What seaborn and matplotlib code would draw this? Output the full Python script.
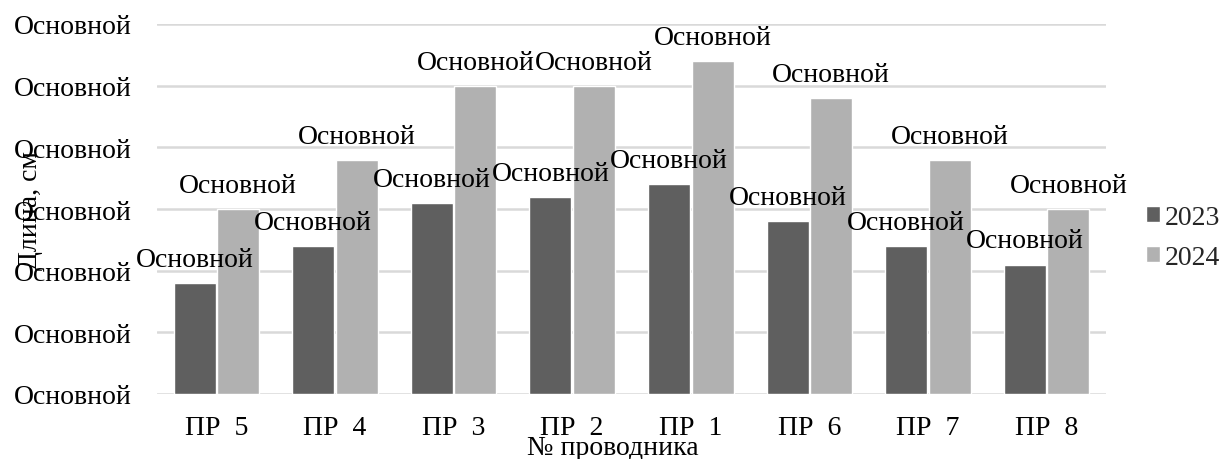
import pandas as pd
import matplotlib
matplotlib.use('Agg')
import matplotlib.pyplot as plt
import seaborn as sns

# Data (length, cm)
categories = ['ПР  5', 'ПР  4', 'ПР  3', 'ПР  2', 'ПР  1', 'ПР  6', 'ПР  7', 'ПР  8']
values_2023 = [18, 24, 31, 32, 34, 28, 24, 21]
values_2024 = [30, 38, 50, 50, 54, 48, 38, 30]
years = ['2023', '2024']
y_ticks = [0, 10, 20, 30, 40, 50, 60]
tick_text = 'Основной'

df = pd.DataFrame({
    'cat': categories * 2,
    'val': values_2023 + values_2024,
    'year': [years[0]] * len(categories) + [years[1]] * len(categories),
})

sns.set_theme(style='white')
plt.rcParams['font.family'] = ['Liberation Serif', 'DejaVu Serif']
fs = 20

fig = plt.figure(figsize=(12.22, 4.6), dpi=100)
ax = fig.add_axes([157 / 1222, 65 / 460, 949 / 1222, 370 / 460])

sns.barplot(data=df, x='cat', y='val', hue='year', order=categories,
            palette=['#5f5f5f', '#b1b1b1'], width=0.734, gap=0.035,
            saturation=1, ax=ax)

# data labels
for cont in ax.containers:
    ax.bar_label(cont, labels=[tick_text] * len(cont), padding=8,
                 fontsize=fs, color='black')

ax.set_xlim(-0.5, len(categories) - 0.5)
ax.set_ylim(0, 60)
ax.set_yticks(y_ticks)
ax.set_yticklabels([tick_text] * len(y_ticks), fontsize=fs, color='black')
ax.set_xticks(range(len(categories)))
ax.set_xticklabels(categories, fontsize=fs, color='black')
ax.tick_params(axis='y', length=0, pad=18)
ax.tick_params(axis='x', length=0, pad=15)

ax.grid(axis='y', color='#d9d9d9', linewidth=1.8)
ax.set_axisbelow(True)
for s in ax.spines.values():
    s.set_visible(False)

ax.set_ylabel('Длина, см', fontsize=fs, color='black')
ax.yaxis.set_label_coords(-0.12, 0.5)
ax.set_xlabel('№ проводника', fontsize=fs, color='black')
ax.xaxis.set_label_coords(0.48, -0.11)

ax.legend(loc='center left', bbox_to_anchor=(1146 / 1222, 0.4815),
          bbox_transform=fig.transFigure, frameon=False, fontsize=fs,
          handlelength=0.5, handleheight=0.5, handletextpad=0.18,
          labelspacing=0.55, borderpad=0, borderaxespad=0)

fig.savefig('out.png', dpi=100)
